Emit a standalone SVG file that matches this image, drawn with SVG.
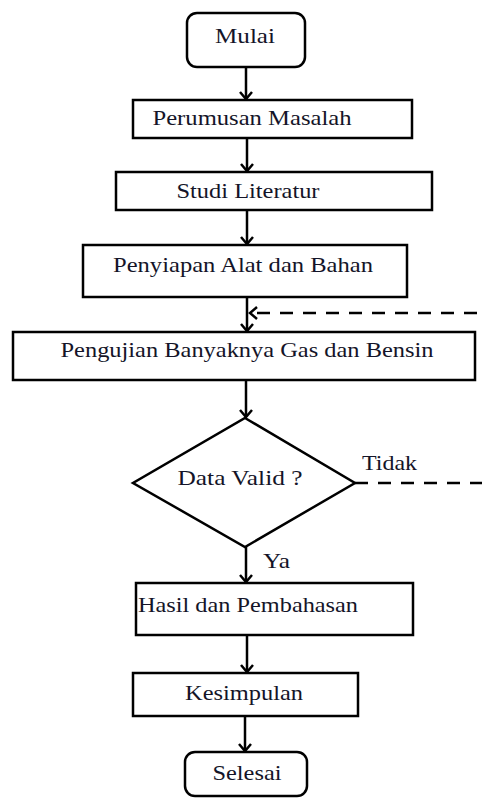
<svg xmlns="http://www.w3.org/2000/svg" width="482" height="800" viewBox="0 0 482 800">
<style>
.box{fill:#fff;stroke:#000;stroke-width:2.5}
.t{font-family:"Liberation Serif","Times New Roman",serif;font-size:22px;fill:#141428;text-anchor:middle}
.l{font-family:"Liberation Serif","Times New Roman",serif;font-size:22px;fill:#141428}
.c{fill:none;stroke:#000;stroke-width:2.5}
.d{fill:none;stroke:#000;stroke-width:2.5;stroke-dasharray:13 10}
</style>
<defs>
<marker id="ah" markerUnits="userSpaceOnUse" markerWidth="14" markerHeight="14" refX="10" refY="6" orient="auto" overflow="visible">
<path d="M3,0 L10,6 L3,12" fill="none" stroke="#000" stroke-width="2.5" stroke-dasharray="none"/>
</marker>
</defs>
<rect width="482" height="800" fill="#fff"/>
<g id="connectors">
<line class="c" x1="246" y1="67" x2="246" y2="99" marker-end="url(#ah)"/>
<line class="c" x1="247" y1="139" x2="247" y2="171" marker-end="url(#ah)"/>
<line class="c" x1="247" y1="211" x2="247" y2="244" marker-end="url(#ah)"/>
<line class="c" x1="247" y1="297" x2="247" y2="331" marker-end="url(#ah)"/>
<line class="c" x1="246" y1="381" x2="246" y2="417" marker-end="url(#ah)"/>
<line class="c" x1="246" y1="547" x2="246" y2="582" marker-end="url(#ah)"/>
<line class="c" x1="247" y1="635" x2="247" y2="672" marker-end="url(#ah)"/>
<line class="c" x1="245" y1="716" x2="245" y2="751" marker-end="url(#ah)"/>
<path class="d" d="M355,483 H492 V313 H250" marker-end="url(#ah)"/>
<text class="l" x="362" y="470" textLength="55" lengthAdjust="spacingAndGlyphs">Tidak</text>
<text class="l" x="263" y="568" textLength="27" lengthAdjust="spacingAndGlyphs">Ya</text>
</g>
<g id="mulai">
<rect class="box" x="187" y="13" width="118" height="54" rx="10"/>
<text class="t" x="245" y="43" textLength="60" lengthAdjust="spacingAndGlyphs">Mulai</text>
</g>
<g id="perumusan">
<rect class="box" x="133" y="100" width="279" height="38"/>
<text class="t" x="252" y="125" textLength="199" lengthAdjust="spacingAndGlyphs">Perumusan Masalah</text>
</g>
<g id="studi">
<rect class="box" x="116" y="172" width="316" height="38"/>
<text class="t" x="248" y="198" textLength="143" lengthAdjust="spacingAndGlyphs">Studi Literatur</text>
</g>
<g id="penyiapan">
<rect class="box" x="83" y="245" width="324" height="52"/>
<text class="t" x="243" y="272" textLength="260" lengthAdjust="spacingAndGlyphs">Penyiapan Alat dan Bahan</text>
</g>
<g id="pengujian">
<rect class="box" x="13" y="332" width="462" height="48"/>
<text class="t" x="247" y="357" textLength="373" lengthAdjust="spacingAndGlyphs">Pengujian Banyaknya Gas dan Bensin</text>
</g>
<g id="valid">
<polygon class="box" points="245,418 355,483 245,547 133,483"/>
<text class="t" x="240" y="485" textLength="125" lengthAdjust="spacingAndGlyphs">Data Valid ?</text>
</g>
<g id="hasil">
<rect class="box" x="136" y="583" width="277" height="52"/>
<text class="t" x="248" y="612" textLength="220" lengthAdjust="spacingAndGlyphs">Hasil dan Pembahasan</text>
</g>
<g id="kesimpulan">
<rect class="box" x="133" y="673" width="225" height="43"/>
<text class="t" x="244" y="700" textLength="118" lengthAdjust="spacingAndGlyphs">Kesimpulan</text>
</g>
<g id="selesai">
<rect class="box" x="185" y="752" width="122" height="44" rx="10"/>
<text class="t" x="247" y="780" textLength="69" lengthAdjust="spacingAndGlyphs">Selesai</text>
</g>
</svg>
